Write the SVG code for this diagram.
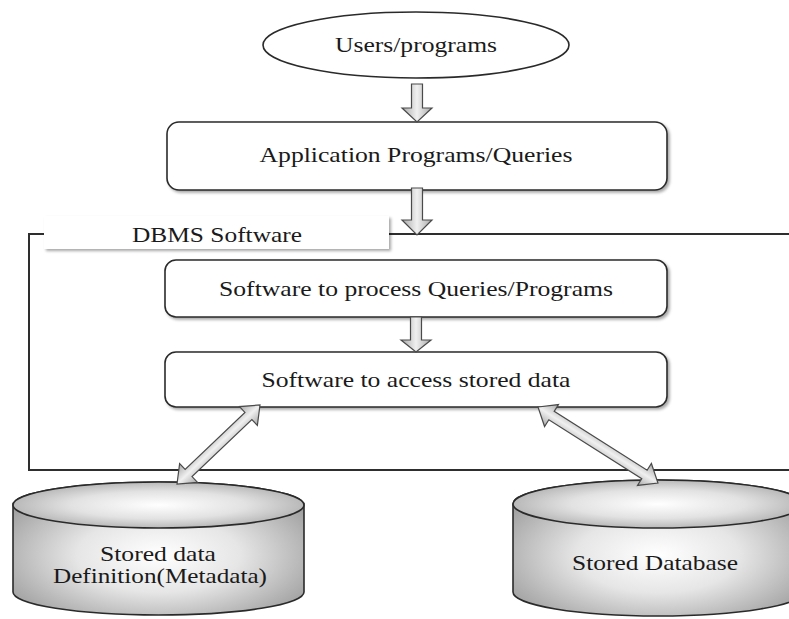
<svg xmlns="http://www.w3.org/2000/svg" width="789" height="619" viewBox="0 0 789 619">
  <style>
    .lbl { font-family: "Liberation Serif", "Times New Roman", serif; font-size: 21px; fill: #1a1a1a; text-anchor: middle; }
    .box { fill: #ffffff; stroke: #2a2a2a; stroke-width: 1.6; }
    .frame { fill: none; stroke: #2e2e2e; stroke-width: 2; }
    .arrow { fill: url(#arrowFill); stroke: #4a4a4a; stroke-width: 1.2; stroke-linejoin: miter; }
    .cylEdge { stroke: #2a2a2a; stroke-width: 1.6; }
  </style>
  <defs>
    <filter id="shadow" x="-5%" y="-20%" width="112%" height="150%">
      <feGaussianBlur in="SourceAlpha" stdDeviation="1.4"/>
      <feOffset dx="1.5" dy="2" result="b"/>
      <feComponentTransfer><feFuncA type="linear" slope="0.35"/></feComponentTransfer>
      <feMerge><feMergeNode/><feMergeNode in="SourceGraphic"/></feMerge>
    </filter>
    <linearGradient id="arrowFill" x1="0" y1="0" x2="0" y2="1">
      <stop offset="0" stop-color="#a8a8a8"/>
      <stop offset="0.5" stop-color="#f0f0f0"/>
      <stop offset="1" stop-color="#a8a8a8"/>
    </linearGradient>
    <radialGradient id="cylBody" cx="0.5" cy="0.55" r="0.62">
      <stop offset="0" stop-color="#ffffff"/>
      <stop offset="0.45" stop-color="#e6e6e6"/>
      <stop offset="1" stop-color="#9c9c9c"/>
    </radialGradient>
    <radialGradient id="cylTop" cx="0.5" cy="0.5" r="0.6">
      <stop offset="0" stop-color="#ffffff"/>
      <stop offset="0.5" stop-color="#e2e2e2"/>
      <stop offset="1" stop-color="#a4a4a4"/>
    </radialGradient>
  </defs>

  <!-- DBMS software frame, open on the right -->
  <g id="dbms-frame">
    <path class="frame" d="M789,234 H29 V470 H789"/>
    <g filter="url(#shadow)">
      <rect x="44" y="216" width="345" height="33" fill="#ffffff"/>
    </g>
    <text class="lbl" x="217" y="242" textLength="170" lengthAdjust="spacingAndGlyphs">DBMS Software</text>
  </g>

  <g id="users">
    <ellipse class="box" cx="416" cy="45" rx="153" ry="33"/>
    <text class="lbl" x="416" y="52" textLength="162" lengthAdjust="spacingAndGlyphs">Users/programs</text>
  </g>

  <g id="app-programs">
    <rect class="box" x="167" y="122" width="500" height="68" rx="12" filter="url(#shadow)"/>
    <text class="lbl" x="416" y="162" textLength="313" lengthAdjust="spacingAndGlyphs">Application Programs/Queries</text>
  </g>

  <g id="query-processor">
    <rect class="box" x="165" y="260" width="502" height="57" rx="11" filter="url(#shadow)"/>
    <text class="lbl" x="416" y="296" textLength="394" lengthAdjust="spacingAndGlyphs">Software to process Queries/Programs</text>
  </g>

  <g id="data-access">
    <rect class="box" x="165" y="352" width="502" height="55" rx="11" filter="url(#shadow)"/>
    <text class="lbl" x="416" y="387" textLength="309" lengthAdjust="spacingAndGlyphs">Software to access stored data</text>
  </g>

  <g id="metadata-store">
    <path class="cylEdge" fill="url(#cylBody)" d="M13,505 V592 A145.5,23 0 0 0 304,592 V505 A145.5,23 0 0 0 13,505 Z"/>
    <ellipse class="cylEdge" fill="url(#cylTop)" cx="158.5" cy="505" rx="145.5" ry="23"/>
    <text class="lbl" x="158" y="561" textLength="116" lengthAdjust="spacingAndGlyphs">Stored data</text>
    <text class="lbl" x="160" y="583" textLength="214" lengthAdjust="spacingAndGlyphs">Definition(Metadata)</text>
  </g>

  <g id="database-store">
    <path class="cylEdge" fill="url(#cylBody)" d="M513,504 V592 A145,24 0 0 0 803,592 V504 A145,24 0 0 0 513,504 Z"/>
    <ellipse class="cylEdge" fill="url(#cylTop)" cx="658" cy="504" rx="145" ry="24"/>
    <text class="lbl" x="655" y="570" textLength="166" lengthAdjust="spacingAndGlyphs">Stored Database</text>
  </g>

  <!-- block arrows, drawn along +x and rotated into place -->
  <g id="connectors">
    <polygon class="arrow" transform="translate(417,84) rotate(90)" points="0,-5.5 24,-5.5 24,-15 38,0 24,15 24,5.5 0,5.5"/>
    <polygon class="arrow" transform="translate(417,188) rotate(90)" points="0,-5.5 32,-5.5 32,-15 47,0 32,15 32,5.5 0,5.5"/>
    <polygon class="arrow" transform="translate(416,317) rotate(90)" points="0,-5.5 23,-5.5 23,-15 35,0 23,15 23,5.5 0,5.5"/>
    <polygon class="arrow" transform="translate(177,484) rotate(-43.6)" points="0,0 16,-13 16,-5 98.6,-5 98.6,-13 114.6,0 98.6,13 98.6,5 16,5 16,13"/>
    <polygon class="arrow" transform="translate(538,407) rotate(32.35)" points="0,0 16,-13 16,-5 126,-5 126,-13 142,0 126,13 126,5 16,5 16,13"/>
  </g>
</svg>
